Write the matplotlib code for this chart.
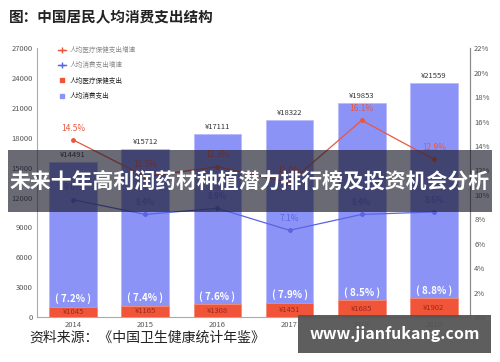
import matplotlib
matplotlib.use('Agg')
import matplotlib.pyplot as plt
from matplotlib.lines import Line2D
from matplotlib.patches import Rectangle
import numpy as np

plt.rcParams['font.family'] = ['Noto Sans CJK SC', 'DejaVu Sans']

years = ['2014', '2015', '2016', '2017', '2018', '2019']
consumption = [14491, 15712, 17111, 18322, 19853, 21559]
health = [1045, 1165, 1308, 1451, 1685, 1902]
health_share = ['7.2%', '7.4%', '7.6%', '7.9%', '8.5%', '8.8%']
health_growth = [14.5, 11.5, 12.3, 11.0, 16.1, 12.9]
cons_growth = [9.6, 8.4, 8.9, 7.1, 8.4, 8.6]

blue = '#8c93f7'
red = '#f0553a'
line_red = '#e9573f'
line_blue = '#5b63e0'
grey = '#888888'

fig = plt.figure(figsize=(5, 3.62), dpi=100)
ax = fig.add_axes([0.074, 0.124, 0.866, 0.743])
x = np.arange(len(years))

# stacked: health at bottom, consumption on top
ax.bar(x, health, width=0.66, color=red, edgecolor='#f58a75', linewidth=0.6, zorder=3)
ax.bar(x, consumption, bottom=health, width=0.66, color=blue, edgecolor='#b8bcfb',
       linewidth=0.6, zorder=2)

for i in range(len(years)):
    top = health[i] + consumption[i]
    ax.text(x[i], top + 300, f'¥{consumption[i]}', ha='center', va='bottom',
            fontsize=5.5, color='#333333', zorder=5)
    ax.text(x[i], health[i] / 2, f'¥{health[i]}', ha='center', va='center',
            fontsize=5.5, color='#9b2a1a', zorder=5)
    ax.text(x[i], health[i] + 250, f'( {health_share[i]} )', ha='center', va='bottom',
            fontsize=7, color='white', fontweight='bold', zorder=5)

ax.set_xlim(-0.5, 5.5)
ax.set_ylim(0, 27000)
ax.set_yticks(np.arange(0, 27001, 3000))
ax.set_xticks(x)
ax.set_xticklabels(years)
ax.tick_params(labelsize=5.5, colors='#555555', length=0, pad=3)
ax.spines['top'].set_visible(False)
for s in ['left', 'bottom', 'right']:
    ax.spines[s].set_color('#aaaaaa')
    ax.spines[s].set_linewidth(0.8)

ax2 = ax.twinx()
ax2.set_ylim(0, 22)
ax2.set_yticks(np.arange(0, 23, 2))
ax2.set_yticklabels([f'{v}%' for v in range(0, 23, 2)])
ax2.tick_params(labelsize=5.5, colors='#555555', length=0, pad=3)
ax2.spines['top'].set_visible(False)
ax2.spines['right'].set_color('#888888')
ax2.spines['left'].set_visible(False)
ax2.spines['bottom'].set_visible(False)

ax2.plot(x, health_growth, color=line_red, lw=0.9, marker='o', ms=2.5, zorder=4)
ax2.plot(x, cons_growth, color=line_blue, lw=0.9, marker='o', ms=2.5, zorder=4)
for i in range(len(years)):
    ax2.text(x[i], health_growth[i] + 0.6, f'{health_growth[i]:.1f}%', ha='center', va='bottom',
             fontsize=6, color=line_red, zorder=5)
    ax2.text(x[i], cons_growth[i] + 0.6, f'{cons_growth[i]:.1f}%', ha='center', va='bottom',
             fontsize=6, color=line_blue, zorder=5)

handles = [
    Line2D([], [], color=line_red, marker='+', lw=1, ms=5),
    Line2D([], [], color=line_blue, marker='+', lw=1, ms=5),
    Line2D([], [], color=red, marker='s', lw=0, ms=2.5),
    Line2D([], [], color=blue, marker='s', lw=0, ms=2.5),
]
labels = ['人均医疗保健支出增速', '人均消费支出增速', '人均医疗保健支出', '人均消费支出']
leg = ax2.legend(handles, labels, loc='upper left', bbox_to_anchor=(0.035, 1.03), frameon=False,
                 fontsize=4.8, handlelength=1.2, handletextpad=0.5, labelspacing=1.1)
for t, c in zip(leg.get_texts(), [grey, grey, '#222222', '#222222']):
    t.set_color(c)

fig.text(0.018, 0.955, '图：中国居民人均消费支出结构', fontsize=10.5, fontweight='bold',
         color='#222222', va='center')
fig.text(0.058, 0.066, '资料来源：《中国卫生健康统计年鉴》', fontsize=10, color='#222222', va='center')

# overlay banner
fig.patches.append(Rectangle((0.016, 0.414), 0.968, 0.171, transform=fig.transFigure,
                             facecolor='#1a1a2a', alpha=0.65, zorder=10))
fig.text(0.5, 0.5, '未来十年高利润药材种植潜力排行榜及投资机会分析', fontsize=15,
         fontweight='bold', color='white', ha='center', va='center', zorder=11)

fig.patches.append(Rectangle((0.596, 0.025), 0.386, 0.105, transform=fig.transFigure,
                             facecolor='#555555', alpha=0.95, zorder=10))
fig.text(0.789, 0.077, 'www.jianfukang.com', fontsize=11.5, fontweight='bold', color='white',
         ha='center', va='center', zorder=11)

fig.savefig('out.png', dpi=100)
